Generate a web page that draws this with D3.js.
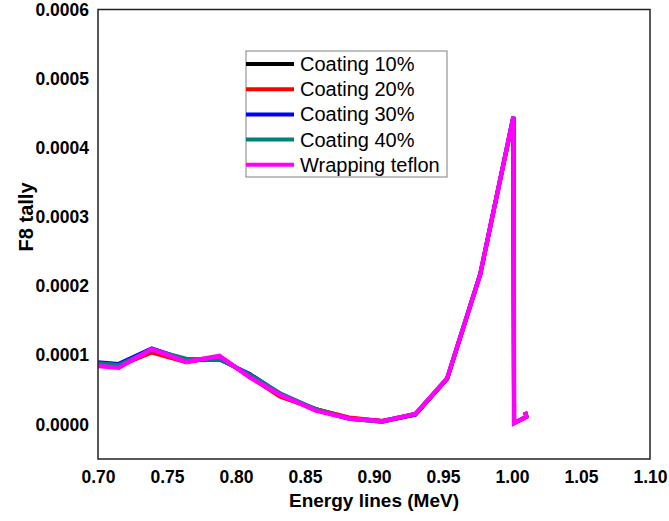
<!DOCTYPE html>
<html>
<head>
<meta charset="utf-8">
<script src="https://cdn.jsdelivr.net/npm/d3@7"></script>
<style>
  body { margin: 0; background: #fff; }
  text { font-family: Arial, "Liberation Sans", sans-serif; }
</style>
</head>
<body>
<svg id="chart" width="669" height="521"></svg>
<script>
// energies (MeV)
var energy = [0.700, 0.715, 0.739, 0.764, 0.788, 0.810, 0.832, 0.858, 0.882, 0.906, 0.930, 0.953, 0.977, 1.001, 1.0015, 1.0105, 1.0095];

var coating10 = [0.0000880, 0.0000855, 0.0001050, 0.0000910, 0.0000970, 0.0000700, 0.0000410, 0.0000220, 0.0000090, 0.0000050, 0.0000150, 0.0000660, 0.0002180, 0.0004440, 0.0000020, 0.0000110, 0.0000180];
var coating20 = [0.0000870, 0.0000840, 0.0001040, 0.0000900, 0.0000980, 0.0000690, 0.0000400, 0.0000220, 0.0000100, 0.0000050, 0.0000140, 0.0000660, 0.0002170, 0.0004440, 0.0000020, 0.0000110, 0.0000180];
var coating30 = [0.0000900, 0.0000875, 0.0001100, 0.0000930, 0.0000940, 0.0000730, 0.0000440, 0.0000210, 0.0000080, 0.0000040, 0.0000140, 0.0000660, 0.0002170, 0.0004450, 0.0000020, 0.0000110, 0.0000180];
var coating40 = [0.0000885, 0.0000860, 0.0001080, 0.0000950, 0.0000945, 0.0000720, 0.0000450, 0.0000220, 0.0000080, 0.0000040, 0.0000150, 0.0000670, 0.0002170, 0.0004450, 0.0000020, 0.0000110, 0.0000180];
var teflon    = [0.0000846, 0.0000820, 0.0001090, 0.0000905, 0.0000990, 0.0000680, 0.0000430, 0.0000200, 0.0000085, 0.0000045, 0.0000150, 0.0000665, 0.0002170, 0.0004450, 0.0000020, 0.0000110, 0.0000180];

var seriesNames = ["Coating 10%", "Coating 20%", "Coating 30%", "Coating 40%", "Wrapping teflon"];
var seriesValues = [coating10, coating20, coating30, coating40, teflon];
var seriesColors = ["#000000", "#ff0000", "#0000ff", "#008078", "#ff00ff"];

var xTicks = [0.70, 0.75, 0.80, 0.85, 0.90, 0.95, 1.00, 1.05, 1.10];
var yTicks = [0.0000, 0.0001, 0.0002, 0.0003, 0.0004, 0.0005, 0.0006];

var svg = d3.select("#chart"),
    width = +svg.attr("width"),
    height = +svg.attr("height"),
    margin = {top: 9.5, right: 19, bottom: 62, left: 98},
    w = width - margin.left - margin.right,
    h = height - margin.top - margin.bottom,
    g = svg.append("g").attr("transform", "translate(" + margin.left + "," + margin.top + ")");

var x = d3.scaleLinear().domain([0.70, 1.10]).range([0, w]);
var y = d3.scaleLinear().domain([-0.00005, 0.0006]).range([h, 0]);

// lines
var line = d3.line()
    .x(function(d) { return x(d[0]); })
    .y(function(d) { return y(d[1]); });

seriesValues.forEach(function(vals, i) {
  g.append("path")
    .datum(energy.map(function(e, j) { return [e, vals[j]]; }))
    .attr("fill", "none")
    .attr("stroke", seriesColors[i])
    .attr("stroke-width", i == 4 ? 4.5 : 4)
    .attr("stroke-linejoin", "miter")
    .attr("d", line);
});

// frame
g.append("rect")
  .attr("x", 0).attr("y", 0).attr("width", w).attr("height", h)
  .attr("fill", "none").attr("stroke", "#222").attr("stroke-width", 1.5);

var xAxis = g.append("g")
  .attr("transform", "translate(0," + h + ")")
  .call(d3.axisBottom(x).tickValues(xTicks).tickFormat(d3.format(".2f")).tickSize(0).tickPadding(12));
var yAxis = g.append("g")
  .call(d3.axisLeft(y).tickValues(yTicks).tickFormat(d3.format(".4f")).tickSize(0).tickPadding(9));

[xAxis, yAxis].forEach(function(a) {
  a.select(".domain").remove();
  a.selectAll("text")
    .attr("fill", "#000")
    .style("font-size", "17.5px")
    .style("font-weight", "bold")
    .style("font-family", "Arial, 'Liberation Sans', sans-serif");
});

// axis titles
svg.append("text")
  .attr("x", margin.left + w / 2)
  .attr("y", 507)
  .attr("text-anchor", "middle")
  .style("font-size", "19px")
  .style("font-weight", "bold")
  .text("Energy lines (MeV)");

svg.append("text")
  .attr("transform", "translate(33," + (margin.top + y(0.0003)) + ") rotate(-90)")
  .attr("text-anchor", "middle")
  .style("font-size", "20px")
  .style("font-weight", "bold")
  .text("F8 tally");

// legend
var legend = svg.append("g").attr("transform", "translate(246,51)");
legend.append("rect")
  .attr("width", 201).attr("height", 126)
  .attr("fill", "#fff").attr("stroke", "#808080").attr("stroke-width", 1);

var item = legend.selectAll(".item")
  .data(seriesNames).enter().append("g")
  .attr("class", "item")
  .attr("transform", function(d, i) { return "translate(0," + (13 + i * 25.2) + ")"; });

item.append("line")
  .attr("x1", 0).attr("x2", 48)
  .attr("stroke", function(d, i) { return seriesColors[i]; })
  .attr("stroke-width", 4);

item.append("text")
  .attr("x", 54)
  .attr("dy", "0.35em")
  .style("font-size", "20px")
  .attr("fill", "#000")
  .text(function(d) { return d; });
</script>
</body>
</html>
